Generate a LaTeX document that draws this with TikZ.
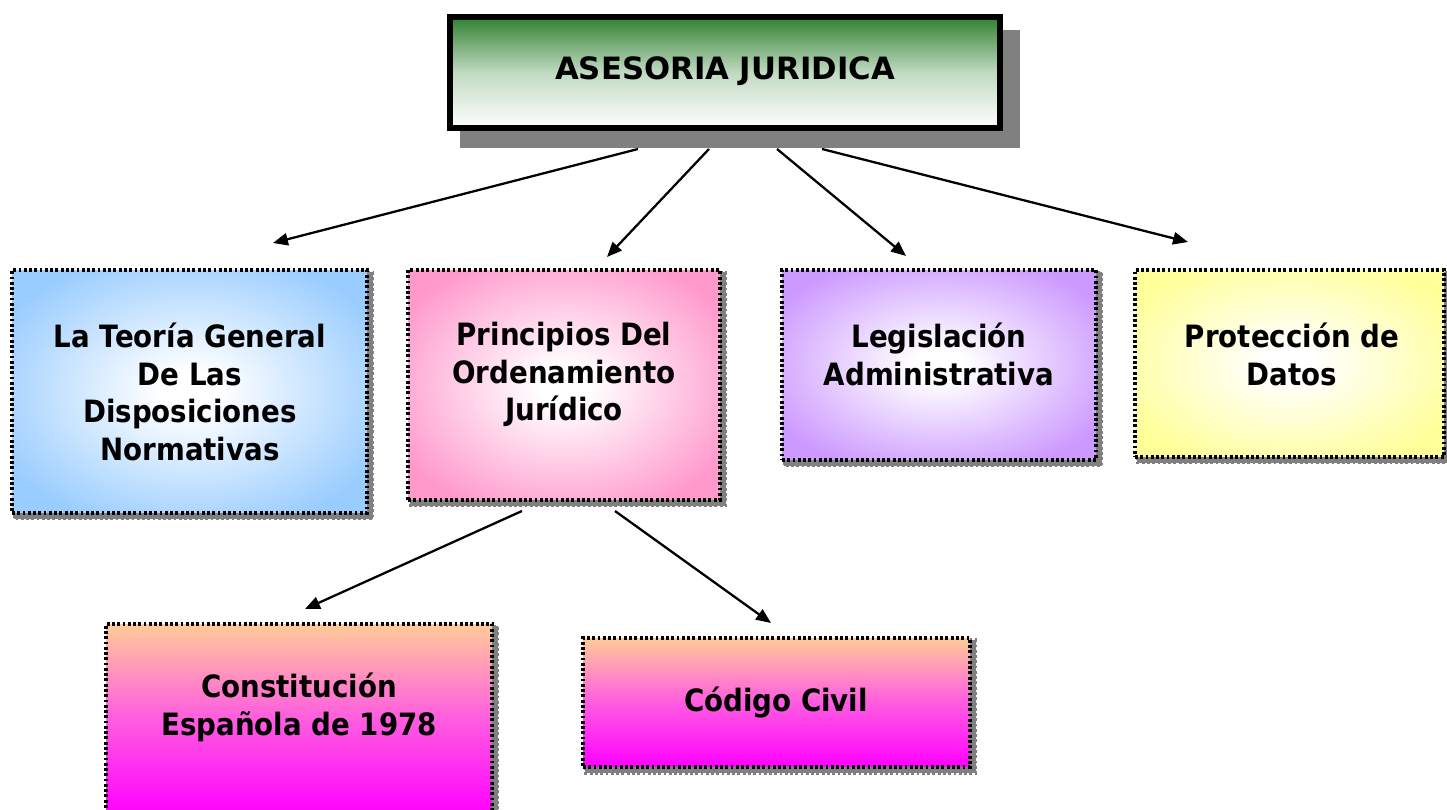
\documentclass[tikz,border=0pt]{standalone}
\usepackage{fontspec}
\setmainfont{DejaVu Sans}
\newfontfamily\boxfont[FakeStretch=0.9]{DejaVu Sans}
\usetikzlibrary{arrows.meta,shadings}
\definecolor{cblue}{RGB}{153,204,255}
\definecolor{cpink}{RGB}{255,153,204}
\definecolor{cpurple}{RGB}{204,153,255}
\definecolor{cyellow}{RGB}{255,255,153}
\definecolor{cpeach}{RGB}{255,204,153}
\definecolor{cmag}{RGB}{255,0,255}
\definecolor{cgreen}{RGB}{48,130,50}
\definecolor{cshadow}{RGB}{128,128,128}
\pgfdeclareradialshading{radblue}{\pgfpoint{0bp}{0bp}}{color(0bp)=(white); color(4bp)=(white); color(30bp)=(cblue); color(100bp)=(cblue)}
\pgfdeclareradialshading{radpink}{\pgfpoint{0bp}{0bp}}{color(0bp)=(white); color(4bp)=(white); color(30bp)=(cpink); color(100bp)=(cpink)}
\pgfdeclareradialshading{radpurple}{\pgfpoint{0bp}{0bp}}{color(0bp)=(white); color(4bp)=(white); color(30bp)=(cpurple); color(100bp)=(cpurple)}
\pgfdeclareradialshading{radyellow}{\pgfpoint{0bp}{0bp}}{color(0bp)=(white); color(4bp)=(white); color(30bp)=(cyellow); color(100bp)=(cyellow)}
\pgfdeclarelayer{back}
\pgfdeclarelayer{bg}
\pgfsetlayers{back,bg,main}
\tikzset{
  dotline/.style={line width=2pt, line cap=butt, dash pattern=on 1.6pt off 1.4pt},
  box/.style={rectangle, inner sep=0pt, draw=black, dotline},
  shadowbox/.style={fill=cshadow, draw=cshadow, dotline},
  txt/.style={align=center, font=\boxfont\bfseries\fontsize{17.5}{21.5}\selectfont, inner sep=0pt},
  arr/.style={line width=1.3pt, -{Triangle[length=8.5pt,width=7pt]}},
}
\begin{document}
\begin{tikzpicture}[x=0.02cm,y=-0.02cm]
\useasboundingbox (0,0) rectangle (1447,810);
\begin{pgfonlayer}{back}
\fill[white] (0,0) rectangle (1447,810);
\end{pgfonlayer}
% top box
\fill[cshadow] (460,30) rectangle (1020,148);
\node[rectangle, draw=black, line width=3.4pt, inner sep=0pt, minimum width=11cm, minimum height=2.22cm,
  top color=cgreen, bottom color=white, middle color=cgreen!30!white] (top) at (725,72.5) {};
\node[font=\bfseries\fontsize{17.5}{20}\selectfont, inner sep=0pt] (ttop) at (725,71) {ASESORIA JURIDICA};
% second row
\node[box, shading=radblue, minimum width=7.1cm, minimum height=4.86cm] (b1) at (189.5,391.5) {};
\node[txt] (t1) at (190,392) {La Teoría General\\De Las\\Disposiciones\\Normativas};
\node[box, shading=radpink, minimum width=6.24cm, minimum height=4.6cm] (b2) at (564,385) {};
\node[txt] (t2) at (564,374.5) {Principios Del\\Ordenamiento\\Jurídico};
\node[box, shading=radpurple, minimum width=6.28cm, minimum height=3.8cm] (b3) at (939,365) {};
\node[txt] (t3) at (939,354.5) {Legislación\\Administrativa};
\node[box, shading=radyellow, minimum width=6.18cm, minimum height=3.74cm] (b4) at (1289.5,363.5) {};
\node[txt] (t4) at (1292,354.5) {Protección de\\Datos};
% third row
\node[box, top color=cpeach, bottom color=cmag, middle color=cmag!40!cpink, minimum width=7.72cm, minimum height=3.82cm] (b5) at (299,719.5) {};
\node[txt] (t5) at (299,707.5) {Constitución\\Española de 1978};
\node[box, top color=cpeach, bottom color=cmag, middle color=cmag!40!cpink, minimum width=7.74cm, minimum height=2.58cm] (b6) at (776.5,702.5) {};
\node[txt] (t6) at (776,703) {Código Civil};
% shadows
\begin{pgfonlayer}{bg}
\foreach \b in {b1,b2,b3,b4,b5,b6}{
  \path[shadowbox] ([shift={(4,4)}]\b.north west) rectangle ([shift={(4,4)}]\b.south east);
}
\end{pgfonlayer}
% arrows
\coordinate (a1s) at (638,149); \coordinate (a1e) at (273,243);
\coordinate (a2s) at (709,149); \coordinate (a2e) at (607,257);
\coordinate (a3s) at (777,149); \coordinate (a3e) at (906,256);
\coordinate (a4s) at (822,149); \coordinate (a4e) at (1188,242);
\coordinate (a5s) at (522,511); \coordinate (a5e) at (305,609);
\coordinate (a6s) at (615,511); \coordinate (a6e) at (771,623);
\foreach \i in {1,...,6}{ \draw[arr] (a\i s) -- (a\i e); }
\end{tikzpicture}
\end{document}
